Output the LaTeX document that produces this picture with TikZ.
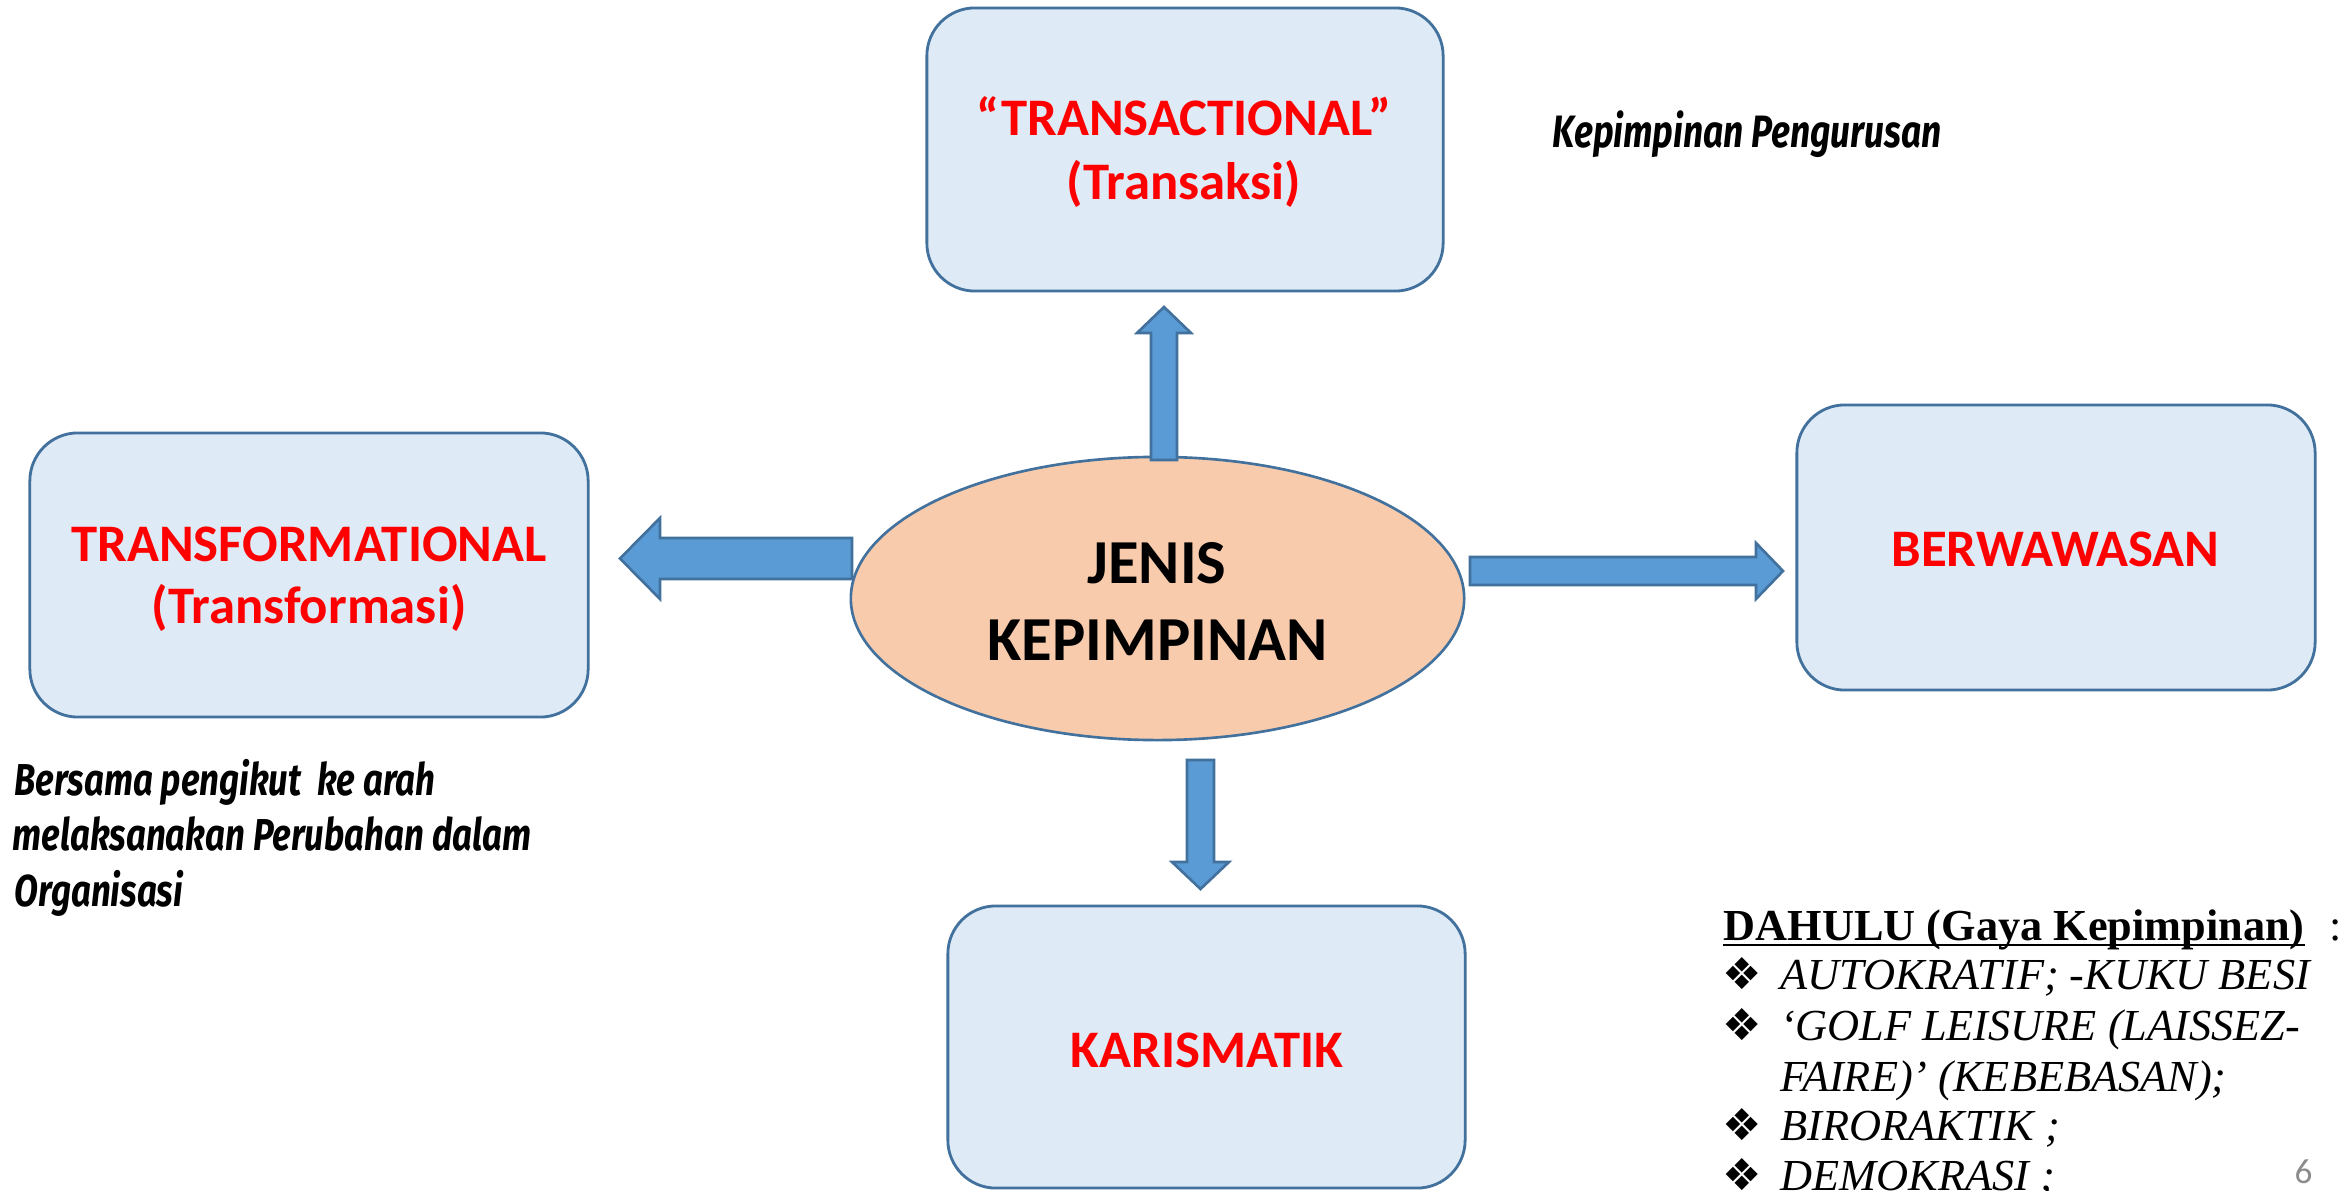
\documentclass[tikz,border=0pt]{standalone}
\usepackage{fontspec}
\setmainfont{Carlito}
\newfontfamily\calfont{Carlito}
\newfontfamily\handfont[FakeStretch=0.78]{Fira Sans}
\newfontfamily\palfont{Liberation Serif}
\newfontfamily\dvfont{DejaVu Sans}
\usetikzlibrary{shapes.geometric}
\definecolor{boxfill}{HTML}{DEEAF6}
\definecolor{boxline}{HTML}{41719C}
\definecolor{ellfill}{HTML}{F8CBAD}
\definecolor{arrfill}{HTML}{5B9BD5}
\definecolor{txtred}{HTML}{FF0000}
\definecolor{pagegray}{HTML}{8C8C8C}
\tikzset{
  boxshape/.style={draw=boxline, fill=boxfill, line width=0.8pt, rounded corners=0.48cm, inner sep=0, minimum width=#1},
  redlabel/.style={font=\calfont\fontsize{15}{18}\selectfont\bfseries, text=txtred, anchor=base, inner sep=0},
  blacklabel/.style={font=\calfont\fontsize{17.8}{21}\selectfont\bfseries, text=black, anchor=base, inner sep=0},
  arrowshape/.style={draw=boxline, fill=arrfill, line width=0.75pt, line join=miter},
  handtext/.style={font=\handfont\fontsize{12.7}{15}\selectfont\bfseries\itshape, anchor=base west, inner sep=0},
  listtext/.style={font=\palfont\fontsize{12.6}{15}\selectfont\itshape, anchor=base west, inner sep=0},
  bulletmark/.style={font=\dvfont\fontsize{12.5}{15}\selectfont, anchor=base, inner sep=0},
}
\begin{document}
\begin{tikzpicture}[x=0.01cm,y=-0.01cm]
\clip (0,0) rectangle (2351,1191);
\fill[white] (0,0) rectangle (2351,1191);

% boxes
\node[boxshape=5.16cm, minimum height=2.83cm] (trans) at (1185,149.5) {};
\node[boxshape=5.58cm, minimum height=2.84cm] (transf) at (309,575) {};
\node[boxshape=5.18cm, minimum height=2.85cm] (berw) at (2056,547.5) {};
\node[boxshape=5.17cm, minimum height=2.82cm] (kar) at (1206.5,1047) {};

% centre ellipse
\node[ellipse, draw=boxline, fill=ellfill, line width=0.75pt, minimum width=6.13cm, minimum height=2.83cm, inner sep=0] (jenis) at (1157.5,598.5) {};

% block arrows
\draw[arrowshape] (1151,460) -- (1151,333) -- (1137,333) -- (1164,307) -- (1191,333) -- (1177,333) -- (1177,460) -- cycle;
\draw[arrowshape] (852,538) -- (660,538) -- (660,518) -- (620,558.5) -- (660,599) -- (660,579) -- (852,579) -- cycle;
\draw[arrowshape] (1470,557) -- (1756,557) -- (1756,543) -- (1783,571) -- (1756,599) -- (1756,585) -- (1470,585) -- cycle;
\draw[arrowshape] (1187,760) -- (1187,862) -- (1172,862) -- (1200.5,889) -- (1229,862) -- (1214,862) -- (1214,760) -- cycle;

% labels
\node[redlabel] (transA) at (1184,136) {“TRANSACTIONAL”};
\node[redlabel] (transB) at (1184,200) {(Transaksi)};
\node[redlabel] (transfA) at (309,561) {TRANSFORMATIONAL};
\node[redlabel] (transfB) at (309,623) {(Transformasi)};
\node[redlabel] (berwA) at (2055.5,566) {BERWAWASAN};
\node[redlabel] (karA) at (1207,1067) {KARISMATIK};
\node[blacklabel] (jenisA) at (1157,583) {JENIS};
\node[blacklabel] (jenisB) at (1157.5,660) {KEPIMPINAN};

% handwritten notes
\node[handtext, font=\handfont\fontsize{12.9}{15}\selectfont\bfseries\itshape] (pengurusan) at (1552,148) {Kepimpinan Pengurusan};
\node[handtext] (noteA) at (14,795) {Bersama pengikut\hspace{0.35em}ke arah};
\node[handtext] (noteB) at (12,850) {melaksanakan Perubahan dalam};
\node[handtext] (noteC) at (14,906) {Organisasi};

% list
\node[listtext, font=\palfont\fontsize{12.6}{15}\selectfont\bfseries] (dahulu) at (1723,940) {DAHULU (Gaya Kepimpinan)};
\draw[line width=0.6pt] ([yshift=-1.5pt]dahulu.base west) -- ([yshift=-1.5pt]dahulu.base east);
\node[listtext, font=\palfont\fontsize{12.6}{15}\selectfont] (colon) at (2329,940) {:};
\node[bulletmark] (b1) at (1742,989) {❖};
\node[listtext] (i1) at (1780,989) {AUTOKRATIF; -KUKU BESI};
\node[bulletmark] (b2) at (1742,1040) {❖};
\node[listtext] (i2) at (1780,1040) {‘GOLF LEISURE (LAISSEZ-};
\node[listtext] (i2b) at (1780,1091) {FAIRE)’ (KEBEBASAN);};
\node[bulletmark] (b3) at (1742,1140) {❖};
\node[listtext] (i3) at (1780,1140) {BIRORAKTIK ;};
\node[bulletmark] (b4) at (1742,1190) {❖};
\node[listtext] (i4) at (1780,1190) {DEMOKRASI ;};

% page number
\node[font=\calfont\fontsize{10}{12}\selectfont, text=pagegray, anchor=base, inner sep=0] (pagenum) at (2303.5,1183) {6};
\end{tikzpicture}
\end{document}
